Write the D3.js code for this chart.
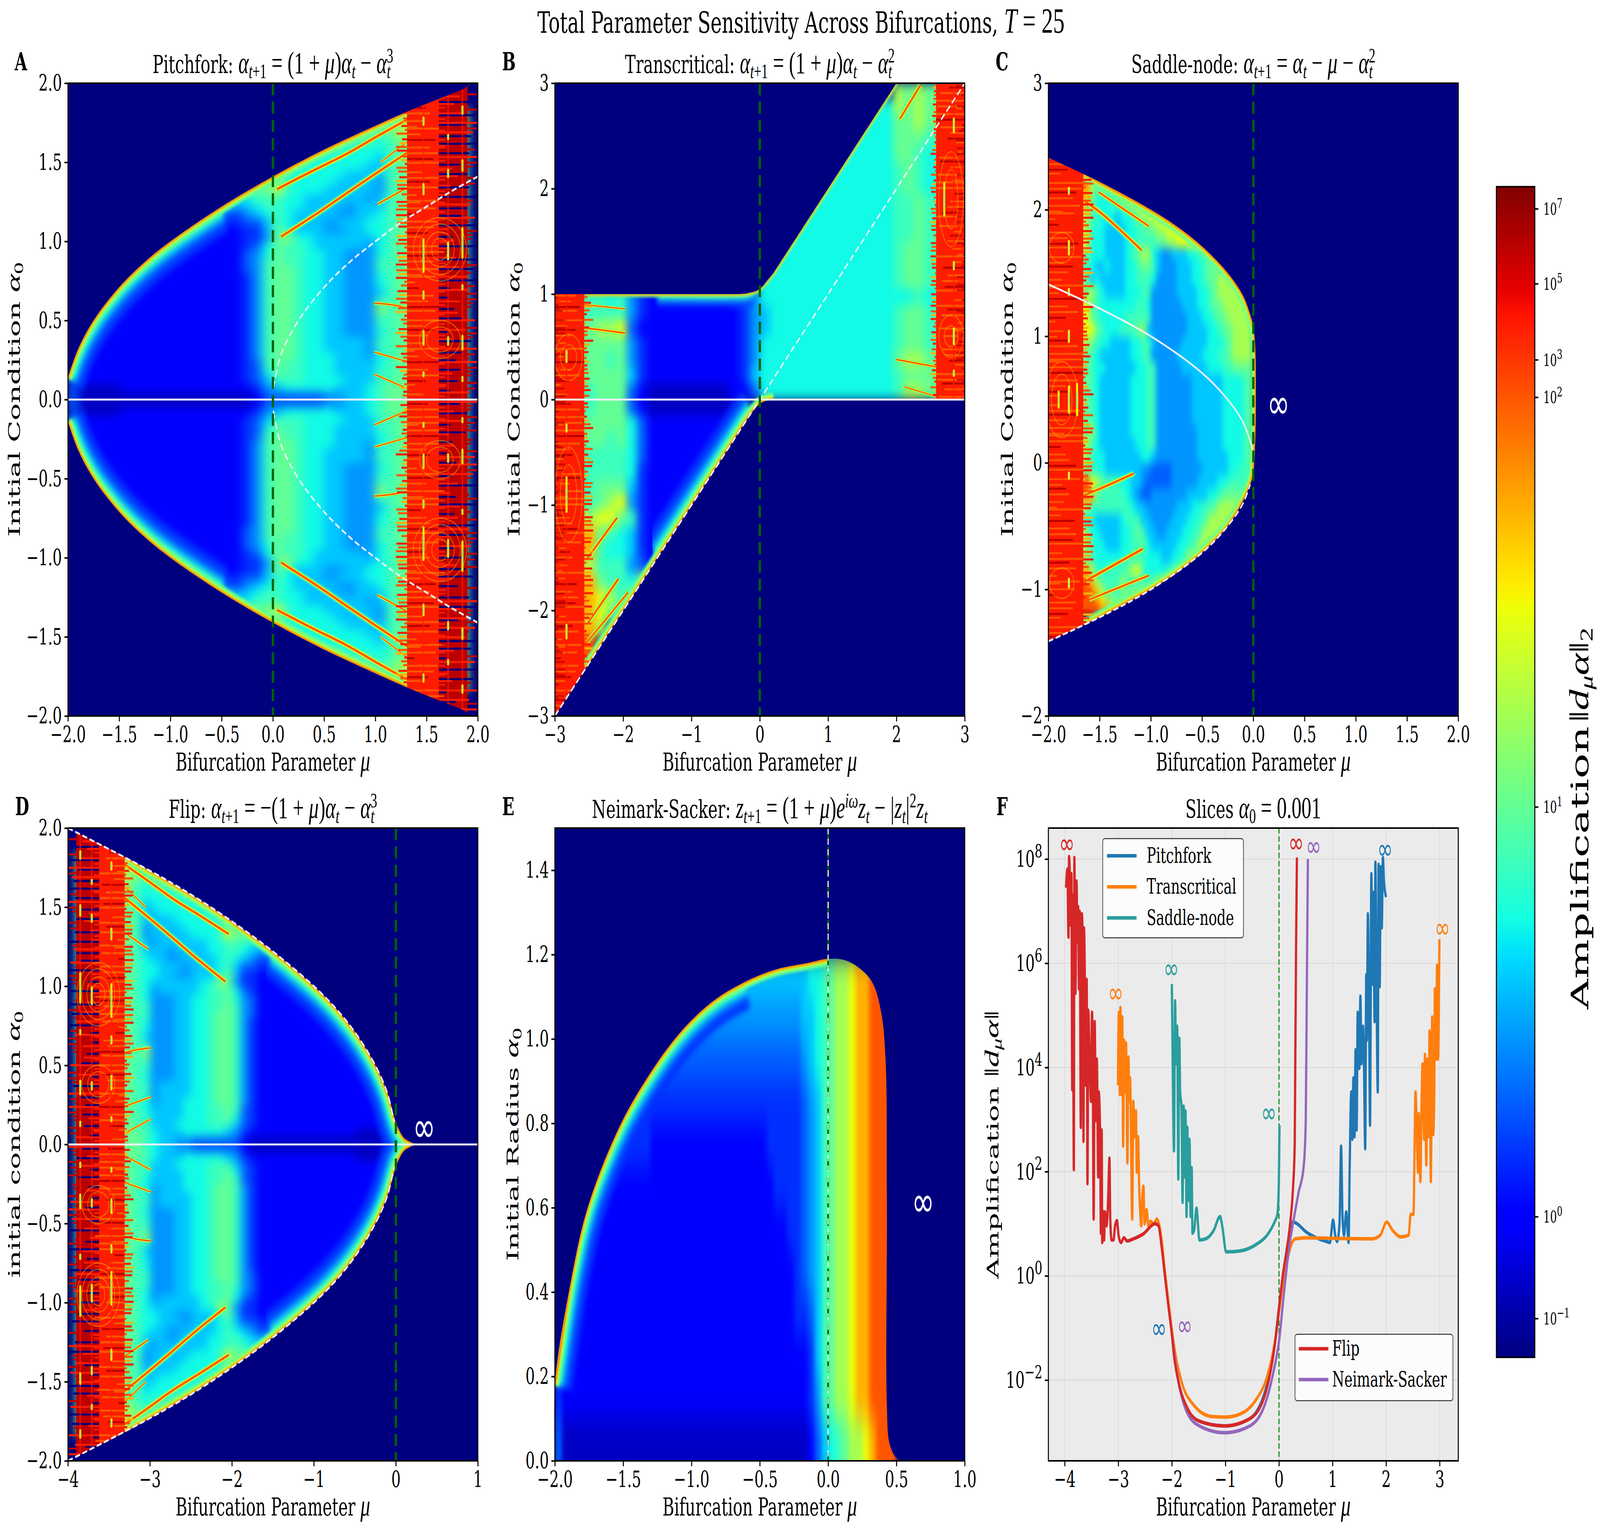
<!DOCTYPE html>
<html>
<head>
<meta charset="utf-8">
<script src="https://cdn.jsdelivr.net/npm/d3@7"></script>
<style>html,body{margin:0;background:#fff;overflow:hidden}svg{display:block}text{font-family:"DejaVu Serif",serif;fill:#000}</style>
</head>
<body>
<svg id="chart"></svg>
<script>
// colour levels, as amplification values (hex digit in the grids = index here)
var ampLevels = [0.042,0.2,1,1.4,1.9,2.7,3.7,5.2,7.2,10,17,29,52,100,7200,1e6]
var cbarTicks = [1e-1,1,10,100,1e3,1e5,1e7]
var cbarDomain = [0.042,0.1,1,10,100,1e3,1e5,1e7,3.8e7]
var cbarFrac = [0,0.033,0.12,0.47,0.82,0.852,0.917,0.981,1]

// A (and D, same picture flipped): rows alpha 1.975 ... 0.025, columns mu -2 ... 2 step 0.1
var C = "eeeeff0", Z = "00000000000000000"
var pitchforkRows = [
Z+"000"+"0000000000"+"000"+"0000ef0",
Z+"000"+"0000000000"+"000"+"00eeff0",
Z+"000"+"0000000000"+"000"+"0eeeff0",
Z+"000"+"0000000000"+"89a"+C,
Z+"000"+"000000009a"+"89a"+C,
Z+"000"+"0000099a99"+"89a"+C,
Z+"000"+"000099a999"+"89a"+C,
Z+"000"+"0099a98888"+"789"+C,
Z+"000"+"99a9888777"+"789"+C,
Z+"000"+"9a98777777"+"689"+C,
Z+"009"+"9887777776"+"689"+C,
Z+"0a9"+"a877777666"+"689"+C,
Z+"9a9"+"9777776666"+"589"+C,
Z+"899"+"b877766666"+"589"+C,
"00000000000000006"+"788"+"8776666665"+"689"+C,
"00000000000000776"+"678"+"8776666566"+"689"+C,
"00000000000004443"+"567"+"8766665566"+"789"+C,
"00000000000333333"+"446"+"8766656667"+"789"+C,
"00000000033322222"+"336"+"9766655667"+"789"+C,
"00000000332222222"+"335"+"9a77666666"+"789"+C,
"00000032222222222"+"347"+"9887666665"+"789"+C,
"00000322222222222"+"457"+"9887766555"+"789"+C,
"00003222222222222"+"458"+"9887766555"+"889"+C,
"00032222222222222"+"458"+"9987766555"+"889"+C,
"00322222222222222"+"358"+"9987766555"+"789"+C,
"00322222222222222"+"358"+"9987766555"+"789"+C,
"03222222222222222"+"358"+"9987766555"+"689"+C,
"03222222222222222"+"358"+"9987766555"+"889"+C,
"32222222222222222"+"358"+"9987766555"+"a89"+C,
"32222222222222222"+"358"+"9987766555"+"889"+C,
"32222222222222222"+"358"+"9987766555"+"889"+C,
"32222222222222222"+"358"+"9987766555"+"789"+C,
"32222222222222222"+"358"+"9987766665"+"889"+C,
"32222222222222222"+"358"+"9987766665"+"889"+C,
"32222222222222222"+"358"+"9987776665"+"789"+C,
"32222222222222222"+"348"+"9887776666"+"789"+C,
"32222222222222222"+"347"+"9887776666"+"889"+C,
"32222222222222222"+"346"+"8887777666"+"889"+C,
"41111222222222222"+"235"+"6777776667"+"899"+C,
"41111111111111111"+"124"+"4444455667"+"899"+C
]
var pitchforkUpper = [[-2,0.14],[-1.9,0.32],[-1.75,0.5],[-1.5,0.71],[-1.25,0.87],[-1,1],[-0.5,1.22],[0,1.41],[0.5,1.58],[1,1.73],[1.31,1.82],[1.5,1.87],[1.85,1.96],[2,2]]
var pitchforkStreaks = [
  {w:1,pts:[[0.08,1.03],[0.44,1.18],[0.71,1.3],[0.96,1.41],[1.31,1.56]]},
  {w:1,pts:[[0.04,1.33],[0.4,1.45],[0.71,1.55],[1.02,1.665],[1.31,1.77]]},
  {w:.6,pts:[[0.99,0.61],[1.15,0.6],[1.31,0.58]]},
  {w:.5,pts:[[0.99,0.3],[1.31,0.24]]},
  {w:.5,pts:[[0.99,0.16],[1.31,0.07]]},
  {w:.6,pts:[[1.02,1.235],[1.31,1.34]]},
  {w:.5,pts:[[1.05,1.5],[1.31,1.63]]}
]
var pitchforkMarks = [[1.47,0.91,0.1],[1.47,0.66,0.02],[1.47,0.39,0.04],[1.47,0.16,0.01],[1.47,1.33,0.03],[1.47,1.76,0.02],[1.85,0.99,0.09],[1.85,0.36,0.04],[1.85,0.13,0.01],[1.85,1.48,0.03],[1.85,1.83,0.02],[1.85,0.71,0.01],[1.71,0.94,0.05],[1.71,0.37,0.02],[1.71,1.43,0.02],[1.71,1.66,0.01]]
var pitchforkArcs = [[1.63,0.95,0.26,0.2],[1.63,0.95,0.2,0.16],[1.63,0.95,0.14,0.11],[1.63,0.95,0.08,0.07],[1.63,0.38,0.2,0.12],[1.63,0.38,0.13,0.08]]
var pitchforkCurve = [[0.005,0.07],[0.05,0.22],[0.1,0.32],[0.25,0.5],[0.5,0.71],[0.75,0.87],[1,1],[1.25,1.12],[1.5,1.22],[1.75,1.32],[2,1.41]]

// B: rows alpha 2.925 ... -2.925 step 0.15, columns mu -3 ... 3 step 0.15
var transcriticalRows = [
"000000000000000000000000000000000a9a9eee",
"000000000000000000007777777777777a9a9eee",
"00000000000000000000777777777777799a9eee",
"000000000000000000007777777777777"+"9998eee",
"000000000000000000007777777777777"+"9987eee",
"000000000000000000007777777777777"+"8987eee",
"000000000000000000007777777777777"+"8987eee",
"000000000000000000007777777777777"+"8898eee",
"000000000000000000007777777777777"+"8898eee",
"000000000000000000007777777777777"+"8898eee",
"000000000000000000007777777777777"+"8998eee",
"000000000000000000007777777777777"+"8998eee",
"000000000000000000007777777777777"+"8998eee",
"eee88785322222222345"+"7777777777777"+"7787eee",
"eee88885322222222235"+"6777777777777"+"8998eee",
"eee9aab4222222222235"+"6777777777777"+"8998eee",
"eee99995322222222235"+"7777777777777"+"8998eee",
"eee99895322222222235"+"7777777777777"+"9aa9eee",
"eee99996322222222236"+"7777777777777"+"8999eee",
"eee89994211111111224"+"7777777777777"+"8aa9eee",
"eee89994211111111100",
"eee99997422222222222",
"eee99897422222222222",
"eee88887422222222222",
"eee88887322222222220",
"eee89996322222222200",
"eee89ab5322222222000",
"eeeabb98322222220000",
"eeec9876322222200000",
"eeec8776322222000000",
"eeea8885422220000000",
"eeec9887a99000000000",
"eeecba8aa00000000000",
"eeecb980000000000000",
"eeeca000000000000000",
"eeed0000000000000000",
"eeed0000000000000000",
"ee000000000000000000",
"e0000000000000000000",
"e0000000000000000000"
]
var transcriticalEnvelope = [[-3,1],[-0.3,1],[-0.2,1.005],[-0.1,1.02],[-0.05,1.03],[0,1.05],[0.05,1.08],[0.1,1.12],[0.15,1.16],[0.2,1.2],[0.3,1.3],[2,3],[3,3],[3,0],[0.2,0],[0.15,-0.005],[0.1,-0.01],[0.05,-0.02],[0,-0.04],[-0.05,-0.07],[-0.1,-0.11],[-0.2,-0.2],[-3,-3]]
var transcriticalTopRim = [[-2.55,1],[-1.5,1],[-0.3,1],[-0.2,1.005],[-0.1,1.02],[0,1.05],[0.1,1.12],[0.2,1.2],[0.5,1.5],[1,2],[1.5,2.5],[2,3]]
var transcriticalLowRim = [[-2.55,-2.55],[-1.5,-1.5],[-1,-1],[-0.5,-0.5],[-0.2,-0.2],[-0.1,-0.11],[0,-0.04],[0.1,-0.01],[0.2,0]]
var transcriticalStreaks = [
  {w:.7,pts:[[-2.57,0.68],[-2.2,0.65],[-1.97,0.63]]},
  {w:.5,pts:[[-2.57,0.9],[-1.97,0.86]]},
  {w:1,pts:[[-2.53,-1.51],[-2.09,-1.12]]},
  {w:1,pts:[[-2.53,-2.13],[-2.07,-1.7]]},
  {w:.8,pts:[[-2.53,-2.3],[-1.93,-1.83]]},
  {w:1,pts:[[2.05,2.66],[2.35,2.98]]},
  {w:.6,pts:[[2,0.38],[2.58,0.31]]},
  {w:.5,pts:[[2.12,0.12],[2.58,0.03]]}
]
var transcriticalMarks = [[-2.83,0.41,0.05],[-2.83,-0.9,0.16],[-2.83,-2.2,0.06],[-2.83,-0.27,0.03],[2.84,0.6,0.07],[2.84,2.6,0.06],[2.84,1.27,0.03],[2.7,1.9,0.15],[2.84,0.25,0.02]]
var transcriticalArcs = [[-2.8,0.4,0.2,0.22],[-2.8,0.4,0.12,0.12],[-2.8,-0.9,0.2,0.45],[-2.8,-0.9,0.12,0.28],[2.8,0.6,0.18,0.2],[2.8,0.6,0.1,0.1],[2.8,1.9,0.18,0.45],[2.8,1.9,0.1,0.28]]
var transcriticalDash = [[-3,-3],[3,3]]

// C: rows alpha 2.45 ... -1.45 step 0.1, columns mu -2 ... 0 step 0.05 (a short row goes on with its last value)
var saddleRows = [
"eeeeee",
"eeeeeeeeb",
"eeeeeeedbaaab",
"eeeeeeeca8889abb",
"eeeeeeec9777889aab",
"eeeeeeea8877767789aab",
"eeeeeeea8776666778899aab",
"eeeeeeeb777666677888899aab",
"eeeeeee97776666789aa765566677889",
"eeeeeee87667666778998655566677899",
"eeeeeee96766666778887555566677899a",
"eeeeeee9a876666777885555566667789a",
"eeeeeeeb98777777788755555566677899a",
"eeeeeeeb987777788888555555566677899a",
"eeeeeeeeb987778889a65555555666677899a",
"eeeeeeea9877666677886555556666677789a",
"eeeeeee9876666667788555556666677788 9a".replace(" ",""),
"eeeeeee98776666667788555556666677788 9".replace(" ",""),
"eeeeeee987666666777885555555666666777789",
"eeeeeee987666666777885555555666666777789",
"eeeeeee987666666777885555555666666777789",
"eeeeeee987666666777885555555666666777789",
"eeeeeee9a7666666777885555555566666777789",
"eeeeeeea87666666677885555555566666777789",
"eeeeeeea87766666667765555555566666677789",
"eeeeeee9877666666655444455555566666778",
"eeeeeeedba98887766544444555556666778",
"eeeeeeedc98888876544555555566667789",
"eeeeeeea8888888876655555566677889a",
"eeeeeee776666678886655556667788a",
"eeeeeeea7766667789866556667788a",
"eeeeeeea877666778897666667788a",
"eeeeeee98777777888877766778aa",
"eeeeeeeca8788889ab8777788aa",
"eeeeeeedca9888a888889aa",
"eeeeeeeedcb99899aab",
"eeeeeeeeedccbab",
"eeeeeeeeee",
"eeeeeee",
"eeee"
]
var saddleEnvelope = [[-2,2.41],[-1.5,2.22],[-1,2],[-0.75,1.87],[-0.5,1.71],[-0.25,1.5],[-0.1,1.32],[-0.03,1.17],[0,1.08],[0.02,0.9],[0.025,0.5],[0.02,0.2],[0,-0.08],[-0.03,-0.17],[-0.1,-0.3],[-0.25,-0.5],[-0.5,-0.71],[-0.75,-0.87],[-1,-1],[-1.5,-1.22],[-2,-1.41]]
var saddleTopRim = [[-1.66,2.29],[-1.5,2.22],[-1,2],[-0.75,1.87],[-0.5,1.71],[-0.25,1.5],[-0.1,1.32],[-0.03,1.17],[0,1.08],[0.02,0.9],[0.025,0.5],[0.02,0.2],[0,-0.08]]
var saddleLowRim = [[0,-0.08],[-0.03,-0.17],[-0.1,-0.3],[-0.25,-0.5],[-0.5,-0.71],[-0.75,-0.87],[-1,-1],[-1.5,-1.22],[-1.66,-1.29]]
var saddleStreaks = [
  {w:.8,pts:[[-1.51,2.14],[-1.02,1.87]]},
  {w:1,pts:[[-1.65,2.07],[-1.48,1.97],[-1.09,1.68]]},
  {w:.9,pts:[[-1.66,-0.26],[-1.4,-0.17],[-1.17,-0.085]]},
  {w:1,pts:[[-1.63,-0.93],[-1.08,-0.68]]},
  {w:.8,pts:[[-1.6,-1.08],[-1.02,-0.89]]}
]
var saddleMarks = [[-1.8,0.5,0.1],[-1.8,1,0.04],[-1.8,1.7,0.05],[-1.8,-0.1,0.02],[-1.8,-0.95,0.03],[-1.9,0.5,0.06],[-1.72,0.5,0.12],[-1.8,2.15,0.02],[-1.8,1.35,0.02]]
var saddleArcs = [[-1.87,0.5,0.16,0.3],[-1.87,0.5,0.1,0.2],[-1.87,1.7,0.12,0.12],[-1.87,-0.95,0.12,0.12]]
var saddleStable = [[-2,1.41],[-1.5,1.22],[-1,1],[-0.5,0.71],[-0.25,0.5],[-0.1,0.32],[-0.02,0.14],[0,0.05]]
var saddleUnstable = [[-2,-1.41],[-1.5,-1.22],[-1,-1],[-0.5,-0.71],[-0.25,-0.5],[-0.1,-0.32],[-0.03,-0.17]]

// D: same field as A seen through mu -> -2 - mu, own outline because of the tail past 0
var flipUpper = [[-4,2],[-3.85,1.96],[-3.31,1.82],[-3,1.73],[-2.5,1.58],[-2,1.41],[-1.5,1.22],[-1,1],[-0.75,0.87],[-0.5,0.71],[-0.25,0.5],[-0.1,0.32],[0,0.14],[0.05,0.08],[0.1,0.04],[0.2,0.01],[0.26,0]]
var flipDash = [[-4,2],[-3,1.73],[-2.5,1.58],[-2,1.41],[-1.5,1.22],[-1,1],[-0.75,0.87],[-0.5,0.71],[-0.25,0.5],[-0.1,0.32],[-0.02,0.14]]

// E: rows alpha 1.45 ... -0.05 step 0.1, columns mu -2 ... 1 step 0.05
var neimarkRows = [
"","","",
"666666666666666666666666666666666666"+"6778"+"9aabccdddd",
"555555555555555555555555555555555555"+"6678"+"9aabccdddd",
"444444444444444444444444444444444444"+"5678"+"9aabccdddd",
"333333333333333333333333333333333333"+"4568"+"9aabccdddd",
"333333333333332222222222222222233333"+"4568"+"9aabccdddd",
"333322222222222222222222222222223333"+"4568"+"9aabccdddd",
"222222222222222222222222222222222233"+"4568"+"9aabccdddd",
"222222222222222222222222222222222223"+"4568"+"9aabccdddd",
"222222222222222222222222222222222223"+"3468"+"9aabccdddd",
"222222222222222222222222222222222222"+"2368"+"9aabccdddd",
"322222222222222222222222222222222222"+"2358"+"9aabccdddd",
"411111111111111111111111111111111111"+"1246"+"789aabcddd",
"411111111111111111111111111111111111"+"1246"+"789aabcddd"
]
var neimarkEnvelope = [[-2,0],[-2,0.18],[-1.88,0.43],[-1.76,0.6],[-1.53,0.79],[-1.3,0.92],[-1.07,1.02],[-0.84,1.09],[-0.61,1.135],[-0.38,1.165],[-0.15,1.18],[0,1.19],[0.12,1.187],[0.24,1.165],[0.33,1.13],[0.39,1.06],[0.42,0.955],[0.43,0.6],[0.43,0.13],[0.45,0.04],[0.5,0.007],[0.58,0]]
var neimarkRim = [[-2,0.18],[-1.88,0.43],[-1.76,0.6],[-1.53,0.79],[-1.3,0.92],[-1.07,1.02],[-0.84,1.09],[-0.61,1.135],[-0.38,1.165],[-0.15,1.18],[0,1.19]]

// chaos texture, per streak: colour level and how far it reaches
var redBand = "edeeedeefedeedeeeedefeedeedeeefeedeedde"
var darkBand = "f1fe0ff1ef0f1eff0fe1f0ef1f0fef1ff0e1f0"
var fingerBand = "d0e0c0d00e0d0c0e00d0"
var reachList = [0.35,0.9,0.55,1,0.25,0.7,1,0.45,0.8,0.3,0.95,0.6,0.2,1,0.5,0.75,0.4,0.85]

// F: slices at alpha0 = 0.001, [mu, log10 amplification]
var sliceFlip = [[-3.975,7.45],[-3.95,7.81],[-3.93,6.5],[-3.92,8.05],[-3.9,7.49],[-3.89,6.73],[-3.875,7.72],[-3.86,3.57],[-3.85,7.31],[-3.83,2.04],[-3.82,8.03],[-3.8,5.42],[-3.78,7.58],[-3.76,6.41],[-3.75,7.09],[-3.735,5.51],[-3.72,7],[-3.7,2.85],[-3.68,6.95],[-3.66,6.14],[-3.65,2.58],[-3.64,6.68],[-3.62,5.15],[-3.61,3.66],[-3.59,5.69],[-3.575,1.77],[-3.56,5.1],[-3.535,4.16],[-3.51,3.35],[-3.49,5.06],[-3.475,3.8],[-3.46,1.09],[-3.44,4.88],[-3.42,2.98],[-3.4,4.16],[-3.375,1.9],[-3.365,3.53],[-3.34,2.8],[-3.325,0.82],[-3.31,2.8],[-3.3,0.64],[-3.28,1.23],[-3.265,0.69],[-3.25,1.23],[-3.22,0.96],[-3.19,1.45],[-3.165,2.26],[-3.15,1.09],[-3.125,0.69],[-3.09,0.69],[-3.06,0.96],[-3.025,1.06],[-2.995,0.78],[-2.95,0.64],[-2.895,0.73],[-2.835,0.67],[-2.72,0.71],[-2.54,0.8],[-2.31,1],[-2.25,0.96],[-2.19,0.55],[-2.13,0],[-2.07,-0.53],[-2,-1.12],[-1.955,-1.57],[-1.87,-2.06],[-1.72,-2.52],[-1.485,-2.79],[-1.015,-2.88],[-0.545,-2.74],[-0.28,-2.34],[-0.135,-1.7],[-0.047,-1.07],[0,-0.62],[0.07,0],[0.16,0.6],[0.217,1.09],[0.264,1.72],[0.294,2.53],[0.305,4.16],[0.32,6.41],[0.335,8.03]]
var sliceTranscritical = [[-3.006,3.66],[-2.99,5.06],[-2.97,3.48],[-2.96,5.15],[-2.94,3.48],[-2.925,4.97],[-2.91,2.49],[-2.89,4.52],[-2.87,3.53],[-2.855,4.47],[-2.83,2.17],[-2.81,4.2],[-2.795,3.35],[-2.78,3.8],[-2.74,1.09],[-2.72,3.35],[-2.695,2.67],[-2.67,3.17],[-2.655,1.99],[-2.63,2.67],[-2.61,1.72],[-2.59,1.18],[-2.57,0.96],[-2.555,1.45],[-2.53,1.72],[-2.51,1],[-2.47,1.27],[-2.44,0.96],[-2.4,1.05],[-2.34,1],[-2.28,1.09],[-2.24,1],[-2.19,0.69],[-2.13,0.1],[-2.07,-0.44],[-2,-1.03],[-1.93,-1.52],[-1.81,-2.06],[-1.6,-2.47],[-1.25,-2.7],[-0.99,-2.71],[-0.72,-2.65],[-0.43,-2.38],[-0.22,-1.93],[-0.105,-1.43],[0,-0.71],[0.07,-0.17],[0.16,0.32],[0.23,0.6],[0.305,0.71],[0.51,0.73],[1.04,0.72],[1.74,0.71],[1.89,0.78],[2.01,1.03],[2.125,0.87],[2.27,0.75],[2.42,0.78],[2.46,1.18],[2.51,1.18],[2.55,3.53],[2.58,2.44],[2.595,1.99],[2.61,3.12],[2.64,1.81],[2.66,3.17],[2.68,4.07],[2.71,2.62],[2.725,4.25],[2.75,2.13],[2.77,4.16],[2.795,2.67],[2.81,4.7],[2.835,1.81],[2.86,4.97],[2.88,2.71],[2.9,3.53],[2.91,5.51],[2.94,4.16],[2.95,5.96],[2.97,4.16],[2.995,6.46]]
var slicePitchfork = [[-2,-1.12],[-1.87,-2.06],[-1.72,-2.52],[-1.485,-2.79],[-1.015,-2.88],[-0.545,-2.74],[-0.135,-1.7],[0,-0.62],[0.16,0.6],[0.25,1.03],[0.305,1.02],[0.51,0.84],[0.745,0.71],[0.89,0.66],[0.95,0.64],[1.01,1.07],[1.05,0.78],[1.085,0.66],[1.13,1],[1.16,2.49],[1.185,1.18],[1.215,0.78],[1.255,1.23],[1.3,0.64],[1.32,2.08],[1.35,3.53],[1.37,2.62],[1.39,3.8],[1.41,2.67],[1.43,4.34],[1.45,2.8],[1.47,5.06],[1.5,3.98],[1.52,5.37],[1.54,4.07],[1.57,4.79],[1.585,4.25],[1.61,2.44],[1.63,5.78],[1.64,4.52],[1.66,6.95],[1.685,4.61],[1.7,2.89],[1.725,7.72],[1.745,5.6],[1.76,7.36],[1.785,4.88],[1.8,7.94],[1.82,5.69],[1.845,3.53],[1.86,7.9],[1.88,5.55],[1.9,7.85],[1.92,6.68],[1.94,8.03],[1.96,7.58],[2,7.27]]
var sliceSaddle = [[-2,5.6],[-1.98,3.71],[-1.96,2.4],[-1.94,5.28],[-1.92,4.07],[-1.9,4.79],[-1.88,1.86],[-1.86,4.56],[-1.845,3.53],[-1.82,3.26],[-1.8,1.41],[-1.78,3.26],[-1.76,1.9],[-1.745,3.17],[-1.725,1.14],[-1.71,2.85],[-1.69,1.45],[-1.67,2.62],[-1.65,1.14],[-1.63,2.08],[-1.615,0.82],[-1.585,0.87],[-1.54,1.3],[-1.485,0.69],[-1.37,0.71],[-1.22,0.87],[-1.1,1.14],[-1.06,0.96],[-0.985,0.46],[-0.72,0.48],[-0.43,0.6],[-0.195,0.82],[-0.075,1.05],[-0.03,1.18],[-0.006,1.63],[0.01,2.89]]
var sliceNeimark = [[-2,-1.12],[-1.9,-1.89],[-1.72,-2.61],[-1.485,-2.88],[-1.015,-3.01],[-0.545,-2.88],[-0.25,-2.43],[-0.105,-1.85],[0,-1.26],[0.1,-0.26],[0.19,0.55],[0.276,1.09],[0.364,1.59],[0.464,2.13],[0.5,2.98],[0.52,5.51],[0.54,8]]
var sliceInfinity = [[-3.96,8.3,"#d62728"],[-3.05,5.44,"#ff7f0e"],[-2.01,5.9,"#2a9d9d"],[-0.19,3.14,"#2a9d9d"],[-2.24,-1,"#1f77b4"],[-1.76,-0.95,"#9467bd"],[0.32,8.32,"#d62728"],[0.645,8.25,"#9467bd"],[1.98,8.2,"#1f77b4"],[3.05,6.68,"#ff7f0e"]]

// the drawing is laid out at 6332x3935 and fills whatever window it gets
var svg = d3.select("#chart").attr("viewBox","0 0 6332 3935")
  .attr("preserveAspectRatio","none")
  .attr("width",window.innerWidth).attr("height",window.innerHeight)
var defs = svg.append("defs")
var panelW = 1622, panelH = 1620
var navy = "#00007f"
var tickFont = 58, labelFont = 63, titleFont = 64

var norm = d3.scaleLog().domain(cbarDomain).range(cbarFrac).clamp(true)
var jetR = d3.scaleLinear().domain([0,.35,.66,.89,1]).range([0,0,1,1,.5])
var jetG = d3.scaleLinear().domain([0,.125,.375,.64,.91,1]).range([0,0,1,1,0,0])
var jetB = d3.scaleLinear().domain([0,.11,.34,.65,1]).range([.5,1,1,0,0])
function jet(f){
  return d3.rgb(jetR(f)*255, jetG(f)*255, jetB(f)*255).formatHex()
}
function levelColor(c){
  return jet(norm(ampLevels[parseInt(c,16)]))
}

// mixed text: kinds m math font, i italic, b subscript, p superscript, x pull back over the subscript
function addMath(sel, parts, size){
  var shift = 0
  parts.forEach(function(p){
    var k = p[1] || ""
    var small = k.indexOf("b")>=0 || k.indexOf("p")>=0
    var target = k.indexOf("b")>=0 ? size*.2 : (k.indexOf("p")>=0 ? -size*.42 : 0)
    var t = sel.append("tspan").text(p[0])
      .attr("dy", target-shift)
      .attr("font-size", (small ? size*.82 : size*(k.indexOf("m")>=0 ? 1.22 : 1)))
    if (k.indexOf("m")>=0) t.style("font-family","'Liberation Serif'")
    if (k.indexOf("i")>=0) t.attr("font-style","italic")
    if (k.indexOf("x")>=0) t.attr("dx",-size*.24)
    shift = target
  })
}
var muLabel = [["Bifurcation Parameter "],["μ","mi"]]

function drawAxes(g, x, y, p){
  var xa = g.append("g").attr("transform","translate(0,"+panelH+")")
    .call(d3.axisBottom(x).tickValues(p.xTicks).tickFormat(p.xFormat).tickSize(14).tickPadding(12).tickSizeOuter(0))
  var ya = g.append("g")
    .call(d3.axisLeft(y).tickValues(p.yTicks).tickFormat(p.yFormat).tickSize(14).tickPadding(10).tickSizeOuter(0))
  ;[xa,ya].forEach(function(a){
    a.select(".domain").remove()
    a.selectAll(".tick line").attr("stroke","#000").attr("stroke-width",4)
    a.selectAll(".tick text").attr("font-size",tickFont).style("font-family","'DejaVu Serif'")
  })
  g.append("rect").attr("width",panelW).attr("height",panelH)
    .attr("fill","none").attr("stroke","#000").attr("stroke-width",4)
  addMath(g.append("text").attr("text-anchor","middle").attr("x",panelW/2).attr("y",panelH+140), muLabel, labelFont)
  addMath(g.append("text").attr("text-anchor","middle")
    .attr("transform","translate("+p.yLabelX+","+(panelH/2)+") rotate(-90) scale(1.16,1)"), p.yLabel, labelFont)
  addMath(g.append("text").attr("text-anchor","middle").attr("x",panelW/2).attr("y",-26), p.title, titleFont)
  svg.append("text").text(p.letter).attr("x",p.letterX).attr("y",p.top-33)
    .attr("font-size",64).attr("font-weight","bold")
}

function softFilter(id, dev){
  var f = defs.append("filter").attr("id",id)
    .attr("x","-5%").attr("y","-5%").attr("width","110%").attr("height","110%")
    .attr("color-interpolation-filters","sRGB")
  f.append("feGaussianBlur").attr("stdDeviation",dev)
}

function drawHeat(p){
  var g = svg.append("g").attr("transform","translate("+p.left+","+p.top+")")
  var x = d3.scaleLinear().domain(p.xDomain).range([0,panelW])
  var y = d3.scaleLinear().domain(p.yDomain).range([panelH,0])
  var muMap = p.muMap || function(m){return m}
  var X = function(m){return x(muMap(m))}
  var line = d3.line().x(function(d){return X(d[0])}).y(function(d){return y(d[1])}).curve(d3.curveCatmullRom)
  var smooth = d3.line().x(function(d){return x(d[0])}).y(function(d){return y(d[1])}).curve(d3.curveCatmullRom.alpha(.5))
  var straight = d3.line().x(function(d){return x(d[0])}).y(function(d){return y(d[1])})

  g.append("rect").attr("width",panelW).attr("height",panelH).attr("fill",navy)
  defs.append("clipPath").attr("id",p.id+"-env").append("path")
    .attr("d",(p.envLinear ? straight : smooth)(p.envelope)+"Z")
  defs.append("clipPath").attr("id",p.id+"-box")
    .append("rect").attr("width",panelW).attr("height",panelH)
  softFilter(p.id+"-soft",p.blur.join(" "))
  softFilter(p.id+"-rim",3)
  softFilter(p.id+"-wide",9)

  var body = g.append("g").attr("clip-path","url(#"+p.id+"-env)")
  var cells = []
  p.rows.forEach(function(row,j){
    d3.range(p.nCols).forEach(function(i){
      var c = row[i] || (p.extend && row.length ? row[row.length-1] : "0")
      // red chaos cells are painted sharp further down, the soft field only sees their neighbour
      if (c==="e" || c==="f"){
        var k = Math.min(i,row.length-1)
        while (k>=0 && (row[k]==="e"||row[k]==="f")) k--
        if (k<0){ k = i; while (k<row.length && (row[k]==="e"||row[k]==="f")) k++ }
        c = row[k] || "0"
      }
      if (c === "0") return
      var a = p.rowTop - p.rowStep*j
      cells.push({c:c, m0:p.muStart+p.muStep*i, a:a})
      if (p.mirror) cells.push({c:c, m0:p.muStart+p.muStep*i, a:-a})
    })
  })
  var heat = body.append("g").attr("filter","url(#"+p.id+"-soft)")
  heat.selectAll("rect").data(cells).enter().append("rect")
    .attr("x",function(d){return Math.min(X(d.m0),X(d.m0+p.muStep))})
    .attr("width",Math.abs(X(p.muStart+p.muStep)-X(p.muStart))+1)
    .attr("y",function(d){return y(d.a+p.rowStep/2)})
    .attr("height",Math.abs(y(p.rowStep)-y(0))+1)
    .attr("fill",function(d){return levelColor(d.c)})

  // jet rim along the outline, soft wide part only where the inside is dark
  var wideG = body.append("g").attr("filter","url(#"+p.id+"-wide)")
  var rimG = body.append("g").attr("filter","url(#"+p.id+"-rim)")
  var rimLayers = [[70,"3",1,wideG],[50,"4",1,wideG],[34,"6",1,wideG],[24,"8",1,wideG],[18,"9",0,rimG],[9,"b",0,rimG],[3.5,"d",0,rimG]]
  rimLayers.forEach(function(r){
    p.rims.forEach(function(rim){
      var pts = rim.pts
      if (r[2]) pts = pts.filter(function(d){return d[0]>=p.blueRim[0] && d[0]<=p.blueRim[1]})
      if (pts.length<2) return
      r[3].append("path").attr("d",smooth(pts)).attr("fill","none")
        .attr("stroke",levelColor(r[1])).attr("stroke-width",r[0]*2*(rim.w||1))
    })
  })

  // streaks
  function signs(a){return p.mirror ? [a,-a] : [a]}
  ;(p.streaks||[]).forEach(function(s){
    signs(1).forEach(function(sg){
      var pts = s.pts.map(function(d){return [d[0],d[1]*sg]})
      body.append("path").attr("d",line(pts)).attr("fill","none")
        .attr("stroke",levelColor("9")).attr("stroke-width",20*s.w).attr("opacity",.45)
      body.append("path").attr("d",line(pts)).attr("fill","none")
        .attr("stroke",levelColor("b")).attr("stroke-width",11*s.w)
      body.append("path").attr("d",line(pts)).attr("fill","none")
        .attr("stroke",levelColor("d")).attr("stroke-width",6*s.w)
    })
  })

  // chaotic zone: sharp base, then horizontal streaks
  ;(p.zones||[]).forEach(function(z){
    if (z.base) body.append("rect")
      .attr("x",Math.min(X(z.mu0),X(z.mu1))).attr("width",Math.abs(X(z.mu1)-X(z.mu0)))
      .attr("y",0).attr("height",panelH).attr("fill",levelColor(z.base))
    if (!z.band) return
    var rows = d3.range(z.a0,z.a1,z.step)
    body.append("g").selectAll("rect").data(rows).enter().append("rect")
      .attr("x",function(a,i){
        var r = reachList[i%reachList.length]
        return Math.min(X(z.mu0),X(z.mu0+(z.mu1-z.mu0)*r))
      })
      .attr("width",function(a,i){
        var r = reachList[i%reachList.length]
        return Math.abs(X(z.mu0+(z.mu1-z.mu0)*r)-X(z.mu0))
      })
      .attr("y",function(a){return y(a+z.step)})
      .attr("height",Math.abs(y(z.step)-y(0))+.5)
      .attr("fill",function(a,i){
        var c = z.band[i%z.band.length]
        return c==="0" ? "none" : (c==="1" ? navy : levelColor(c))
      })
      .attr("opacity",z.opacity||1)
  })
  ;(p.arcs||[]).forEach(function(e){
    signs(1).forEach(function(sg){
      body.append("ellipse").attr("cx",X(e[0])).attr("cy",y(e[1]*sg))
        .attr("rx",Math.abs(X(e[2])-X(0))).attr("ry",Math.abs(y(e[3])-y(0)))
        .attr("fill","none").attr("stroke",levelColor("c")).attr("stroke-width",3).attr("opacity",.5)
    })
  })
  ;(p.chaosLines||[]).forEach(function(m){
    body.append("line").attr("x1",X(m)).attr("x2",X(m)).attr("y1",0).attr("y2",panelH)
      .attr("stroke",levelColor("e")).attr("stroke-width",7).attr("opacity",.6)
  })
  ;(p.marks||[]).forEach(function(k){
    signs(k[1]).forEach(function(a){
      body.append("line").attr("x1",X(k[0])).attr("x2",X(k[0]))
        .attr("y1",y(a+k[2])).attr("y2",y(a-k[2]))
        .attr("stroke",levelColor("b")).attr("stroke-width",8).attr("stroke-linecap","round")
      body.append("line").attr("x1",X(k[0])).attr("x2",X(k[0]))
        .attr("y1",y(a+k[2]*.5)).attr("y2",y(a-k[2]*.5))
        .attr("stroke",levelColor("9")).attr("stroke-width",3).attr("stroke-linecap","round")
    })
  })

  // reference lines
  var over = g.append("g").attr("clip-path","url(#"+p.id+"-box)")
  ;(p.lines||[]).forEach(function(l){
    over.append("path").attr("d",smooth(l.pts)).attr("fill","none")
      .attr("stroke","#eef0f8").attr("stroke-width",5)
      .attr("stroke-dasharray",l.dash?"20 10":null)
  })
  over.append("line").attr("x1",x(0)).attr("x2",x(0)).attr("y1",0).attr("y2",panelH)
    .attr("stroke","#006400").attr("stroke-width",p.greenW||9).attr("stroke-dasharray","31 16")
  if (p.whiteDash) over.append("line").attr("x1",x(0)).attr("x2",x(0)).attr("y1",0).attr("y2",panelH)
    .attr("stroke","#fff").attr("stroke-width",4).attr("stroke-dasharray","16 11")
  if (p.inf) g.append("text").text("∞").attr("x",x(p.inf[0])).attr("y",y(p.inf[1]))
    .attr("text-anchor","middle").attr("dy",".35em").attr("font-size",108)
    .style("fill","#fff").style("font-family","'DejaVu Sans'")
  drawAxes(g,x,y,p)
}

function mirrorOutline(u){
  return u.concat(u.slice().reverse().map(function(d){return [d[0],-d[1]]}))
}
function lowered(u){return u.map(function(d){return [d[0],-d[1]]})}
function upTo(u,lo,hi){return u.filter(function(d){return d[0]>=lo && d[0]<=hi})}
function titleMap(name,parts){return [[name+": "]].concat(parts)}
var fmt1 = d3.format(".1f"), fmt0 = d3.format("d")
var alphaZero = [["α","mi"],["0","mb"]]
var aT = [["α","mi"],["t","mib"]]
var aNext = [["α","mi"],["t","mib"],["+1","mb"]]

// A
var pitchforkZones = [
  {mu0:1.31,mu1:1.2,a0:-1.9,a1:1.9,step:.012,band:fingerBand},
  {mu0:1.31,mu1:1.68,base:"e",a0:-2,a1:2,step:.012,band:redBand},
  {mu0:1.68,mu1:1.9,base:"f"},
  {mu0:1.62,mu1:1.99,a0:-2,a1:2,step:.012,band:darkBand}
]
drawHeat({id:"a",letter:"A",letterX:58,left:269,top:213,xDomain:[-2,2],yDomain:[-2,2],
  rows:pitchforkRows,nCols:40,muStart:-2,muStep:.1,rowTop:1.975,rowStep:.05,mirror:true,blur:[20,12],
  envelope:mirrorOutline(pitchforkUpper),
  rims:[{pts:upTo(pitchforkUpper,-2,1.31)},{pts:lowered(upTo(pitchforkUpper,-2,1.31))}],blueRim:[-2,-.1],
  streaks:pitchforkStreaks,zones:pitchforkZones,marks:pitchforkMarks,arcs:pitchforkArcs,chaosLines:[1.47,1.71,1.85],
  lines:[{pts:[[-2,0],[2,0]]},{pts:pitchforkCurve,dash:true},{pts:lowered(pitchforkCurve),dash:true}],
  xTicks:d3.range(-2,2.01,.5),yTicks:d3.range(-2,2.01,.5),xFormat:fmt1,yFormat:fmt1,yLabelX:-190,
  yLabel:[["Initial Condition "]].concat(alphaZero),
  title:titleMap("Pitchfork",aNext.concat([[" = (1 + ","m"],["μ","mi"],[")","m"]],aT,[[" − ","m"]],aT,[["3","mpx"]]))})

// B
drawHeat({id:"b",letter:"B",letterX:1987,left:2196,top:213,xDomain:[-3,3],yDomain:[-3,3],
  rows:transcriticalRows,nCols:40,muStart:-3,muStep:.15,rowTop:2.925,rowStep:.15,blur:[15,15],envLinear:true,
  envelope:transcriticalEnvelope,
  rims:[{pts:transcriticalTopRim,w:.45},{pts:transcriticalLowRim}],blueRim:[-2,-.1],
  streaks:transcriticalStreaks,marks:transcriticalMarks,arcs:transcriticalArcs,chaosLines:[-2.83,2.84],
  zones:[
    {mu0:-2.57,mu1:-2.44,a0:-2.6,a1:1,step:.018,band:fingerBand},
    {mu0:2.58,mu1:2.5,a0:0,a1:3,step:.018,band:fingerBand},
    {mu0:-3,mu1:-2.57,base:"e",a0:-3,a1:1,step:.018,band:redBand},
    {mu0:3,mu1:2.58,base:"e",a0:0,a1:3,step:.018,band:redBand},
    {mu0:-3,mu1:-2.85,a0:-3,a1:1,step:.018,band:"f0e0f00e0ff0",opacity:.7},
    {mu0:3,mu1:2.88,a0:0,a1:3,step:.018,band:"f0e0f00e0ff0",opacity:.7}
  ],
  lines:[{pts:[[-3,0],[3,0]]},{pts:transcriticalDash,dash:true}],
  xTicks:d3.range(-3,4),yTicks:d3.range(-3,4),xFormat:fmt0,yFormat:fmt0,yLabelX:-140,
  yLabel:[["Initial Condition "]].concat(alphaZero),
  title:titleMap("Transcritical",aNext.concat([[" = (1 + ","m"],["μ","mi"],[")","m"]],aT,[[" − ","m"]],aT,[["2","mpx"]]))})

// C
drawHeat({id:"c",letter:"C",letterX:3940,left:4149,top:213,xDomain:[-2,2],yDomain:[-2,3],
  rows:saddleRows,nCols:40,muStart:-2,muStep:.05,rowTop:2.45,rowStep:.1,blur:[10,12],extend:true,
  envelope:saddleEnvelope,
  rims:[{pts:saddleTopRim},{pts:saddleLowRim}],blueRim:[5,6],
  streaks:saddleStreaks,marks:saddleMarks,arcs:saddleArcs,
  zones:[
    {mu0:-1.66,mu1:-1.56,a0:-1.4,a1:2.3,step:.015,band:fingerBand},
    {mu0:-2,mu1:-1.66,base:"e",a0:-1.5,a1:2.45,step:.015,band:redBand}
  ],
  lines:[{pts:saddleStable},{pts:saddleUnstable,dash:true}],inf:[.245,.47],
  xTicks:d3.range(-2,2.01,.5),yTicks:d3.range(-2,4),xFormat:fmt1,yFormat:fmt0,yLabelX:-140,
  yLabel:[["Initial Condition "]].concat(alphaZero),
  title:titleMap("Saddle-node",[["α","mi"],["t","mib"],["+1","mb"],[" = ","m"]].concat(aT,[[" − ","m"],["μ","mi"],[" − ","m"]],aT,[["2","mpx"]]))})

// D
drawHeat({id:"d",letter:"D",letterX:60,left:269,top:2120,xDomain:[-4,1],yDomain:[-2,2],
  rows:pitchforkRows,nCols:40,muStart:-2,muStep:.1,rowTop:1.975,rowStep:.05,mirror:true,blur:[17,12],
  muMap:function(m){return -2-m},
  envelope:mirrorOutline(flipUpper),
  rims:[{pts:upTo(flipUpper,-3.31,.3)},{pts:lowered(upTo(flipUpper,-3.31,.3))}],blueRim:[-1.9,.3],
  streaks:pitchforkStreaks,zones:pitchforkZones,marks:pitchforkMarks,arcs:pitchforkArcs,chaosLines:[1.47,1.71,1.85],
  lines:[{pts:[[-4,0],[1,0]]},{pts:flipDash,dash:true},{pts:lowered(flipDash),dash:true}],inf:[.345,.11],
  xTicks:d3.range(-4,2),yTicks:d3.range(-2,2.01,.5),xFormat:fmt0,yFormat:fmt1,yLabelX:-190,
  yLabel:[["initial condition "]].concat(alphaZero),
  title:titleMap("Flip",aNext.concat([[" = −(1 + ","m"],["μ","mi"],[")","m"]],aT,[[" − ","m"]],aT,[["3","mpx"]]))})

// E
drawHeat({id:"e",letter:"E",letterX:1987,left:2196,top:2120,xDomain:[-2,1],yDomain:[0,1.5],
  rows:neimarkRows,nCols:60,muStart:-2,muStep:.05,rowTop:1.45,rowStep:.1,blur:[9,38],
  envelope:neimarkEnvelope,
  rims:[{pts:neimarkRim}],blueRim:[-2,-.5],whiteDash:true,greenW:7,inf:[.695,.615],
  lines:[],
  xTicks:d3.range(-2,1.01,.5),yTicks:d3.range(0,1.41,.2),xFormat:fmt1,yFormat:fmt1,yLabelX:-145,
  yLabel:[["Initial Radius "]].concat(alphaZero),
  title:[["Neimark-Sacker: "],["z","mi"],["t","mib"],["+1","mb"],[" = (1 + ","m"],["μ","mi"],[")","m"],["e","mi"],["iω","mip"],["z","mi"],["t","mib"],[" − |","m"],["z","mi"],["t","mib"],["|","m"],["2","mp"],["z","mi"],["t","mib"]]})

// F
function drawSlices(){
  var g = svg.append("g").attr("transform","translate(4149,2120)")
  var x = d3.scaleLinear().domain([-4.305,3.347]).range([0,panelW])
  var y = d3.scaleLog().domain([Math.pow(10,-3.55),Math.pow(10,8.595)]).range([panelH,0])
  var xTicks = d3.range(-4,4), yTicks = [1e-2,1,1e2,1e4,1e6,1e8]
  g.append("rect").attr("width",panelW).attr("height",panelH).attr("fill","#ebebeb")
  defs.append("clipPath").attr("id","f-box").append("rect").attr("width",panelW).attr("height",panelH)
  xTicks.forEach(function(t){
    g.append("line").attr("x1",x(t)).attr("x2",x(t)).attr("y2",panelH).attr("stroke","#dcdcdc").attr("stroke-width",3)
  })
  yTicks.forEach(function(t){
    g.append("line").attr("y1",y(t)).attr("y2",y(t)).attr("x2",panelW).attr("stroke","#dcdcdc").attr("stroke-width",3)
  })
  g.append("line").attr("x1",x(0)).attr("x2",x(0)).attr("y2",panelH)
    .attr("stroke","#008000").attr("stroke-width",4).attr("stroke-dasharray","14 7")
  var line = d3.line().x(function(d){return x(d[0])}).y(function(d){return y(Math.pow(10,d[1]))}).curve(d3.curveMonotoneX)
  var series = [[slicePitchfork,"#1f77b4"],[sliceTranscritical,"#ff7f0e"],[sliceSaddle,"#2a9d9d"],[sliceNeimark,"#9467bd"],[sliceFlip,"#d62728"]]
  var lines = g.append("g").attr("clip-path","url(#f-box)")
  series.forEach(function(s){
    lines.append("path").attr("d",line(s[0])).attr("fill","none")
      .attr("stroke",s[1]).attr("stroke-width",9).attr("stroke-linejoin","round")
  })
  g.selectAll(".inf").data(sliceInfinity).enter().append("text").attr("class","inf").text("∞")
    .attr("x",function(d){return x(d[0])}).attr("y",function(d){return y(Math.pow(10,d[1]))})
    .attr("text-anchor","middle").attr("dy",".35em").attr("font-size",74)
    .style("fill",function(d){return d[2]}).style("font-family","'DejaVu Sans'")

  drawLegend(g,215,27,557,254,[["Pitchfork","#1f77b4"],["Transcritical","#ff7f0e"],["Saddle-node","#2a9d9d"]],44,17,174,79.5)
  drawLegend(g,976,1296,625,170,[["Flip","#d62728"],["Neimark-Sacker","#9467bd"]],37,15,147,79)

  drawAxes(g,x,y,{xTicks:xTicks,yTicks:yTicks,xFormat:fmt0,yFormat:function(){return ""},
    letter:"F",letterX:3943,top:2120,yLabelX:-198,yLabel:[["Amplification "],["‖","m"],["d","mi"],["μ","mib"],["α","mi"],["‖","m"]],
    title:[["Slices "],["α","mi"],["0","mb"],[" = 0.001","m"]]})
  yTicks.forEach(function(t){
    var e = Math.round(Math.log10(t))
    addMath(g.append("text").attr("text-anchor","end").attr("x",-24).attr("y",y(t)+20),
      [["10"],[e<0?"−"+(-e):""+e,"p"]],tickFont)
  })
}
function drawLegend(g,lx,ly,lw,lh,items,pad,handleX,textX,gap){
  g.append("rect").attr("x",lx).attr("y",ly).attr("width",lw).attr("height",lh).attr("rx",8)
    .attr("fill","#fff").attr("fill-opacity",.82).attr("stroke","#333").attr("stroke-width",2.5)
  items.forEach(function(it,i){
    var yy = ly+pad+i*gap
    g.append("line").attr("x1",lx+handleX).attr("x2",lx+handleX+117).attr("y1",yy).attr("y2",yy)
      .attr("stroke",it[1]).attr("stroke-width",9)
    g.append("text").text(it[0]).attr("x",lx+textX).attr("y",yy+18).attr("font-size",55)
  })
}
drawSlices()

// colour bar
function drawBar(){
  var g = svg.append("g").attr("transform","translate(5922,478)")
  var barW = 152, barH = 2997
  var y = d3.scaleLinear().domain([0,1]).range([barH,0])
  g.selectAll("rect").data(d3.range(0,1,1/512)).enter().append("rect")
    .attr("x",0).attr("width",barW).attr("y",function(d){return y(d+1/512)})
    .attr("height",barH/512+1).attr("fill",function(d){return jet(d)})
  g.append("rect").attr("width",barW).attr("height",barH).attr("fill","none").attr("stroke","#000").attr("stroke-width",4)
  cbarTicks.forEach(function(t){
    var py = y(norm(t)), e = Math.round(Math.log10(t))
    g.append("line").attr("x1",barW).attr("x2",barW+14).attr("y1",py).attr("y2",py).attr("stroke","#000").attr("stroke-width",4)
    addMath(g.append("text").attr("x",barW+34).attr("y",py+15),[["10"],[e<0?"−"+(-e):""+e,"p"]],42)
  })
  svg.append("text").text("Amplification").attr("font-size",96)
    .attr("transform","translate(6285,2584) rotate(-90) scale(1.12,1)")
  addMath(svg.append("text").attr("transform","translate(6285,1849) rotate(-90)"),
    [["‖","m"],["d","mi"],["μ","mib"],["α","mi"],["‖","m"],["2","mb"]],88)
}
drawBar()

addMath(svg.append("text").attr("text-anchor","middle").attr("x",3170).attr("y",84),
  [["Total Parameter Sensitivity Across Bifurcations, "],["T","mi"],[" = 25","m"]],75)
</script>
</body>
</html>
